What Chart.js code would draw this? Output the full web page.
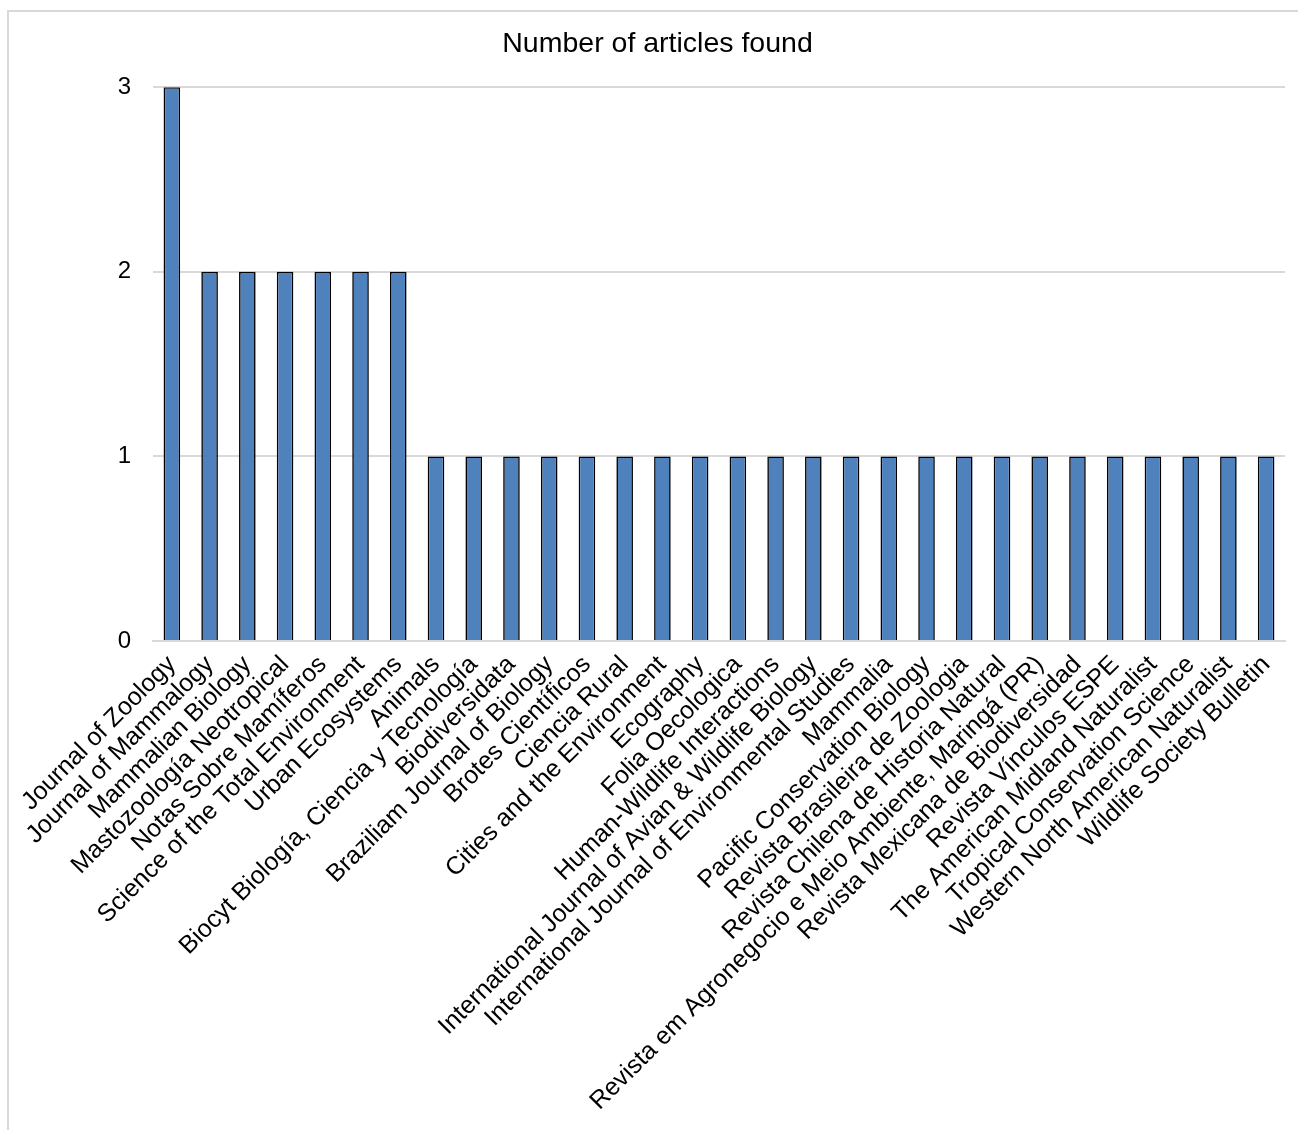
<!DOCTYPE html>
<html>
<head>
<meta charset="utf-8">
<script src="https://cdn.jsdelivr.net/npm/chart.js@4"></script>
<style>
	html, body { margin: 0; padding: 0; background: #fff; }
	#wrap { position: relative; width: 1298px; height: 1130px; }
</style>
</head>
<body>
<div id="wrap"><canvas id="articlesChart" width="1298" height="1130"></canvas></div>
<script>
// journals, in the order shown on the x axis
const journals = [
	"Journal of Zoology",
	"Journal of Mammalogy",
	"Mammalian Biology",
	"Mastozoología Neotropical",
	"Notas Sobre Mamíferos",
	"Science of the Total Environment",
	"Urban Ecosystems",
	"Animals",
	"Biocyt Biología, Ciencia y Tecnología",
	"Biodiversidata",
	"Braziliam Journal of Biology",
	"Brotes Científicos",
	"Ciencia Rural",
	"Cities and the Environment",
	"Ecography",
	"Folia Oecologica",
	"Human-Wildlife Interactions",
	"International Journal of Avian & Wildlife Biology",
	"International Journal of Environmental Studies",
	"Mammalia",
	"Pacific Conservation Biology",
	"Revista Brasileira de Zoologia",
	"Revista Chilena de Historia Natural",
	"Revista em Agronegocio e Meio Ambiente, Maringá (PR)",
	"Revista Mexicana de Biodiversidad",
	"Revista Vínculos ESPE",
	"The American Midland Naturalist",
	"Tropical Conservation Science",
	"Western North American Naturalist",
	"Wildlife Society Bulletin"
];

const articleCounts = [3, 2, 2, 2, 2, 2, 2, 1, 1, 1, 1, 1, 1, 1, 1, 1, 1, 1, 1, 1, 1, 1, 1, 1, 1, 1, 1, 1, 1, 1];

const yTicks = [0, 1, 2, 3];

const FONT = "'Liberation Sans', Arial, sans-serif";

// light gray frame round the chart (only top and left edges show)
const framePlugin = {
	id: 'frame',
	beforeDraw (chart) {
		const ctx = chart.ctx;
		ctx.save();
		ctx.fillStyle = '#ffffff';
		ctx.fillRect(0, 0, chart.width, chart.height);
		ctx.strokeStyle = '#d9d9d9';
		ctx.lineWidth = 2;
		ctx.strokeRect(8, 11, chart.width, chart.height);
		ctx.restore();
	}
};

let chartEle = document.getElementById('articlesChart').getContext('2d');

new Chart(chartEle, {
	type: 'bar',
	data: {
		labels: journals,
		datasets: [{
			label: 'Number of articles found',
			data: articleCounts,
			backgroundColor: '#4f81bd',
			borderColor: '#000000',
			borderWidth: 1.6,
			barPercentage: 0.44,
			categoryPercentage: 1.0
		}]
	},
	options: {
		responsive: false,
		animation: false,
		devicePixelRatio: 1,
		layout: {
			// left padding nudges the title to the right, y axis width makes up the rest
			padding: { left: 30, right: 13, top: 0, bottom: 0 }
		},
		plugins: {
			legend: { display: false },
			tooltip: { enabled: false },
			title: {
				display: true,
				text: 'Number of articles found',
				color: '#000000',
				font: { family: FONT, size: 28.5, weight: 'normal' },
				padding: { top: 27, bottom: 26 }
			}
		},
		scales: {
			x: {
				grid: { display: false, drawTicks: false },
				border: { display: true, color: '#d9d9d9', width: 2 },
				ticks: {
					color: '#000000',
					font: { family: FONT, size: 25 },
					minRotation: 45,
					maxRotation: 45,
					autoSkip: false,
					padding: 9
				},
				afterFit (scale) {
					scale.height = 1130 - 641;
				}
			},
			y: {
				min: 0,
				max: 3,
				afterBuildTicks (scale) {
					scale.ticks = yTicks.map(v => ({ value: v }));
				},
				grid: { color: '#d9d9d9', lineWidth: 2, drawTicks: false },
				border: { display: false },
				ticks: {
					color: '#000000',
					font: { family: FONT, size: 24 },
					padding: 22
				},
				afterFit (scale) {
					scale.width = 123;
				}
			}
		}
	},
	plugins: [framePlugin]
});
</script>
</body>
</html>
